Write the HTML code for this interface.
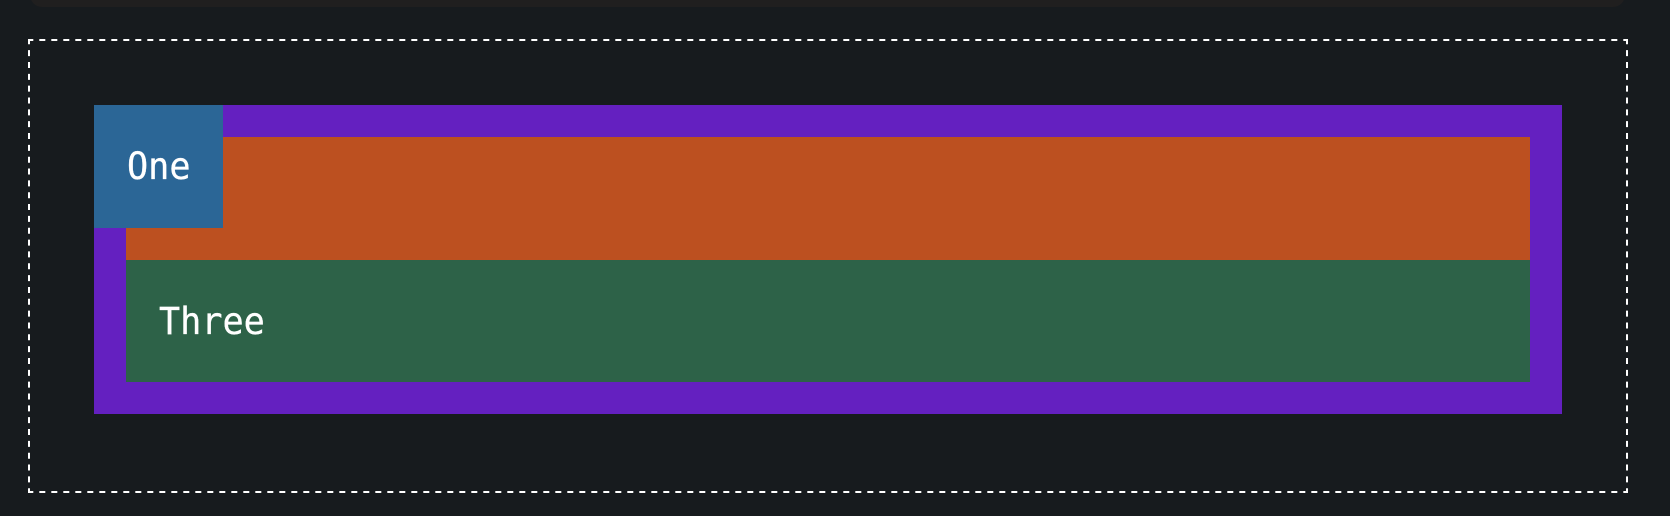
<!DOCTYPE html>
<html lang="en">
<head>
<meta charset="utf-8">
<title>Stacked boxes</title>
<style>
  html, body { margin: 0; padding: 0; width: 1670px; height: 516px; overflow: hidden; background: #171b1e; }
  .abs { position: absolute; box-sizing: border-box; }
  .label { position: absolute; color: #fff; font-family: "DejaVu Sans Mono", "Liberation Mono", monospace; font-size: 37px; line-height: 40px; white-space: pre; transform: scaleX(0.95); transform-origin: 0 0; -webkit-text-stroke: 0.3px #fff; }
</style>
</head>
<body>
  <div class="abs" style="left:30px;top:-20px;width:1595px;height:27px;background:#201f1f;border-radius:0 0 12px 12px;"></div>
  <svg class="abs" style="left:0;top:0;" width="1670" height="516" viewBox="0 0 1670 516">
    <g stroke="#fff" stroke-width="2" fill="none">
      <line x1="28" y1="40" x2="1628" y2="40" stroke-dasharray="6 6" stroke-dashoffset="0.7"></line>
      <line x1="28" y1="492" x2="1628" y2="492" stroke-dasharray="6 6" stroke-dashoffset="0.7"></line>
      <line x1="29" y1="39" x2="29" y2="493" stroke-dasharray="6 5.84" stroke-dashoffset="0.7"></line>
      <line x1="1627" y1="39" x2="1627" y2="493" stroke-dasharray="6 5.84" stroke-dashoffset="0.7"></line>
    </g>
  </svg>
  <div class="abs" style="left:94px;top:105px;width:1468px;height:309px;background:#6420c0;"></div>
  <div class="abs" style="left:126px;top:137px;width:1404px;height:123px;background:#bc5020;"></div>
  <div class="abs" style="left:126px;top:260px;width:1404px;height:122px;background:#2d6248;">
    <span class="label" style="left:33px;top:42px;">Three</span>
  </div>
  <div class="abs" style="left:94px;top:105px;width:129px;height:123px;background:#2b6696;">
    <span class="label" style="left:33px;top:42px;">One</span>
  </div>
</body>
</html>
